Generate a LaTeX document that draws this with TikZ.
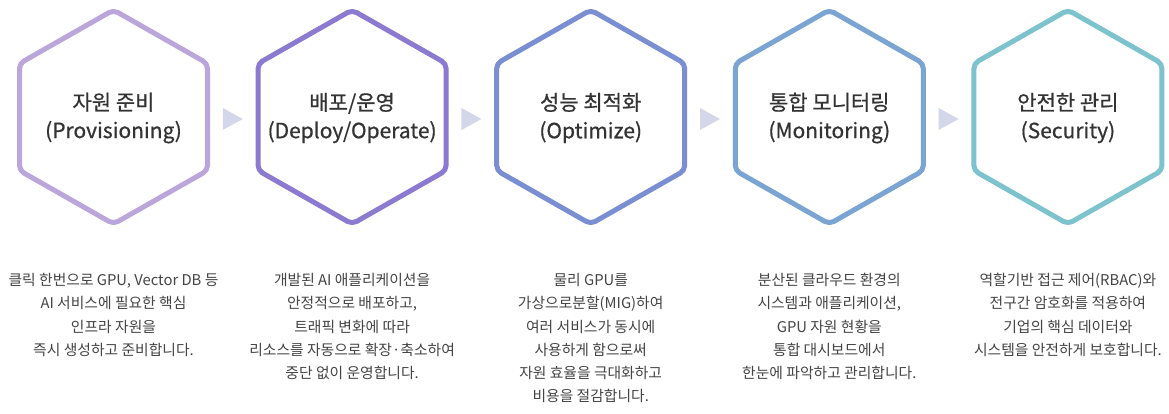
\documentclass[tikz,border=0pt]{standalone}
\usepackage{fontspec}
\setmainfont{Noto Sans CJK KR}
\newfontfamily\titlefont[FakeBold=0.7]{Noto Sans CJK KR}
\usetikzlibrary{calc}
\definecolor{hexA}{HTML}{BAA6DA}
\definecolor{hexB}{HTML}{8B7AD0}
\definecolor{hexC}{HTML}{7A8ED2}
\definecolor{hexD}{HTML}{7AA4D2}
\definecolor{hexE}{HTML}{7DC3CD}
\definecolor{triC}{HTML}{D3D7E9}
\definecolor{titleC}{HTML}{333333}
\definecolor{bodyC}{HTML}{444444}
\tikzset{
  hexline/.style={line width=5pt, rounded corners=5pt, line join=round},
  titletext/.style={align=center, inner sep=0pt, text=titleC,
    font=\titlefont\fontsize{21pt}{28pt}\selectfont},
  bodytext/.style={align=center, inner sep=0pt, anchor=north, text=bodyC,
    font=\fontsize{14.8pt}{23.3pt}\selectfont},
  arrowtri/.style={fill=triC, draw=none}
}
\begin{document}
\begin{tikzpicture}[x=1pt,y=-1pt]
\path[fill=white] (0,0) rectangle (1169,414);
\useasboundingbox (0,0) rectangle (1169,414);
% hexagons
\foreach \cx/\col in {113.5/hexA, 352.1/hexB, 590.7/hexC, 829.3/hexD, 1067.9/hexE}{
  \draw[hexline, draw=\col] (\cx,10) -- (\cx+94,63.5) -- (\cx+94,170.5) -- (\cx,224)
     -- (\cx-94,170.5) -- (\cx-94,63.5) -- cycle;
}
% titles
\node[titletext] (t1) at (113.5,118) {자원 준비\\(Provisioning)};
\node[titletext] (t2) at (352.1,118) {배포/운영\\(Deploy/Operate)};
\node[titletext] (t3) at (590.7,118) {성능 최적화\\(Optimize)};
\node[titletext] (t4) at (829.3,118) {통합 모니터링\\(Monitoring)};
\node[titletext] (t5) at (1067.9,118) {안전한 관리\\(Security)};
% arrows (triangles)
\foreach \ax in {232.8, 471.4, 710.0, 948.6}{
  \path[arrowtri] (\ax-10,108) -- (\ax+10,119) -- (\ax-10,130) -- cycle;
}
% body texts
\node[bodytext] (b1) at (113.5,273) {클릭 한번으로 GPU, Vector DB 등\\AI 서비스에 필요한 핵심\\인프라 자원을\\즉시 생성하고 준비합니다.};
\node[bodytext] (b2) at (352.1,273) {개발된 AI 애플리케이션을\\안정적으로 배포하고,\\트래픽 변화에 따라\\리소스를 자동으로 확장·축소하여\\중단 없이 운영합니다.};
\node[bodytext] (b3) at (590.7,273) {물리 GPU를\\가상으로분할(MIG)하여\\여러 서비스가 동시에\\사용하게 함으로써\\자원 효율을 극대화하고\\비용을 절감합니다.};
\node[bodytext] (b4) at (829.3,273) {분산된 클라우드 환경의\\시스템과 애플리케이션,\\GPU 자원 현황을\\통합 대시보드에서\\한눈에 파악하고 관리합니다.};
\node[bodytext] (b5) at (1067.9,273) {역할기반 접근 제어(RBAC)와\\전구간 암호화를 적용하여\\기업의 핵심 데이터와\\시스템을 안전하게 보호합니다.};
\end{tikzpicture}
\end{document}
